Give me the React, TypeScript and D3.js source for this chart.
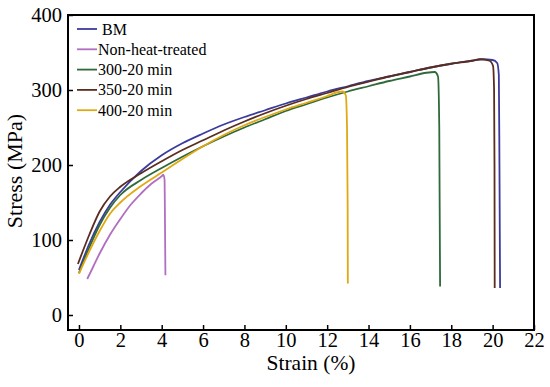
import React, { useEffect, useRef } from 'react'
import * as d3 from 'd3'

// strain (%) / stress (MPa)
const seriesNames = ['BM', 'Non-heat-treated', '300-20 min', '350-20 min', '400-20 min']
const seriesColors = ['#3b3b9e', '#b06fc0', '#2f6a3a', '#5a2d1f', '#e0a812']

const bmStrain = [0, 0.5, 1, 1.5, 2, 3, 4, 5, 6, 7, 8, 9, 10, 11, 12, 13, 14, 15, 16, 17, 18, 19, 19.5, 20.0, 20.22, 20.3, 20.33, 20.36]
const bmStress = [60, 95, 124, 147, 164, 192, 213, 229, 242, 254, 264, 273, 282, 290, 298, 305, 312, 318, 324, 330, 335, 339, 341, 340, 336, 320, 200, 36]

const nhtStrain = [0.4, 0.7, 1, 1.5, 2, 2.5, 3, 3.5, 4, 4.08, 4.14, 4.16, 4.18]
const nhtStress = [48, 65, 82, 107, 128, 147, 162, 175, 185, 187, 180, 120, 53]

const s300Strain = [0, 0.5, 1, 1.5, 2, 3, 4, 5, 6, 7, 8, 9, 10, 11, 12, 13, 14, 15, 16, 16.8, 17.2, 17.36, 17.42, 17.46]
const s300Stress = [56, 90, 120, 143, 160, 180, 196, 211, 225, 238, 250, 261, 272, 281, 290, 298, 305, 312, 318, 323, 324, 318, 250, 38]

const s350Strain = [-0.05, 0.5, 1, 1.5, 2, 3, 4, 5, 6, 7, 8, 9, 10, 11, 12, 13, 14, 15, 16, 17, 18, 19, 19.4, 19.85, 20.02, 20.07, 20.09, 20.1]
const s350Stress = [68, 107, 138, 158, 171, 189, 205, 220, 233, 246, 258, 269, 279, 288, 296, 304, 311, 318, 324, 330, 335, 339, 341, 339, 332, 300, 200, 36]

const s400Strain = [0, 0.5, 1, 1.5, 2, 3, 4, 5, 6, 7, 8, 9, 10, 11, 12, 12.5, 12.75, 12.9, 12.96, 12.99, 13.0]
const s400Stress = [55, 85, 112, 135, 150, 172, 190, 208, 225, 240, 253, 264, 274, 283, 292, 297, 298, 293, 250, 150, 42]

const xTicks = [0, 2, 4, 6, 8, 10, 12, 14, 16, 18, 20, 22]
const yTicks = [0, 100, 200, 300, 400]

const allStrain = [bmStrain, nhtStrain, s300Strain, s350Strain, s400Strain]
const allStress = [bmStress, nhtStress, s300Stress, s350Stress, s400Stress]

const W = 550
const H = 387

export default function App() {
  const ref = useRef<SVGSVGElement>(null)

  useEffect(() => {
    const svg = d3.select(ref.current)
    svg.selectAll('*').remove()

    const left = 68
    const right = 534
    const top = 15
    const bottom = 330
    const font = '"Liberation Serif", "Times New Roman", serif'

    const x = d3.scaleLinear().domain([-0.53, 22]).range([left, right])
    const y = d3.scaleLinear().domain([-20, 400]).range([bottom, top])

    // 曲线
    const line = d3
      .line<[number, number]>()
      .x((d) => x(d[0]))
      .y((d) => y(d[1]))
      .curve(d3.curveMonotoneX)

    allStrain.forEach((xs, i) => {
      const pts = xs.map((v, j) => [v, allStress[i][j]] as [number, number])
      svg
        .append('path')
        .attr('d', line(pts))
        .attr('fill', 'none')
        .attr('stroke', seriesColors[i])
        .attr('stroke-width', 1.8)
    })

    // 坐标轴
    const xAxis = svg
      .append('g')
      .attr('transform', `translate(0,${bottom})`)
      .call(d3.axisBottom(x).tickValues(xTicks).tickSizeInner(-5).tickSizeOuter(0).tickPadding(2))
    const yAxis = svg
      .append('g')
      .attr('transform', `translate(${left},0)`)
      .call(d3.axisLeft(y).tickValues(yTicks).tickSizeInner(-5).tickSizeOuter(0).tickPadding(6))
    ;[xAxis, yAxis].forEach((g) => {
      g.select('.domain').remove()
      g.selectAll('.tick line').attr('stroke', '#000').attr('stroke-width', 1.5)
      g.selectAll('.tick text')
        .attr('fill', '#000')
        .style('font-family', font)
        .style('font-size', '20.5px')
    })

    // 边框
    svg
      .append('rect')
      .attr('x', left)
      .attr('y', top)
      .attr('width', right - left)
      .attr('height', bottom - top)
      .attr('fill', 'none')
      .attr('stroke', '#000')
      .attr('stroke-width', 2)

    svg
      .append('text')
      .text('Strain (%)')
      .attr('x', (left + right) / 2 + 10)
      .attr('y', 370)
      .attr('text-anchor', 'middle')
      .style('font-family', font)
      .style('font-size', '21.5px')
    svg
      .append('text')
      .text('Stress (MPa)')
      .attr('transform', 'translate(22,171) rotate(-90)')
      .attr('text-anchor', 'middle')
      .style('font-family', font)
      .style('font-size', '22px')

    // 图例
    seriesNames.forEach((name, i) => {
      const ly = 29 + i * 20.3
      svg
        .append('line')
        .attr('x1', 77)
        .attr('x2', 97)
        .attr('y1', ly)
        .attr('y2', ly)
        .attr('stroke', seriesColors[i])
        .attr('stroke-width', 1.8)
      svg
        .append('text')
        .text(name)
        .attr('x', i === 0 ? 102 : 98)
        .attr('y', ly + 5.5)
        .style('font-family', font)
        .style('font-size', '16px')
    })
  }, [])

  return (
    <svg
      ref={ref}
      width={W}
      height={H}
      style={{ position: 'absolute', left: 0, top: 0, background: '#fff' }}
    />
  )
}
